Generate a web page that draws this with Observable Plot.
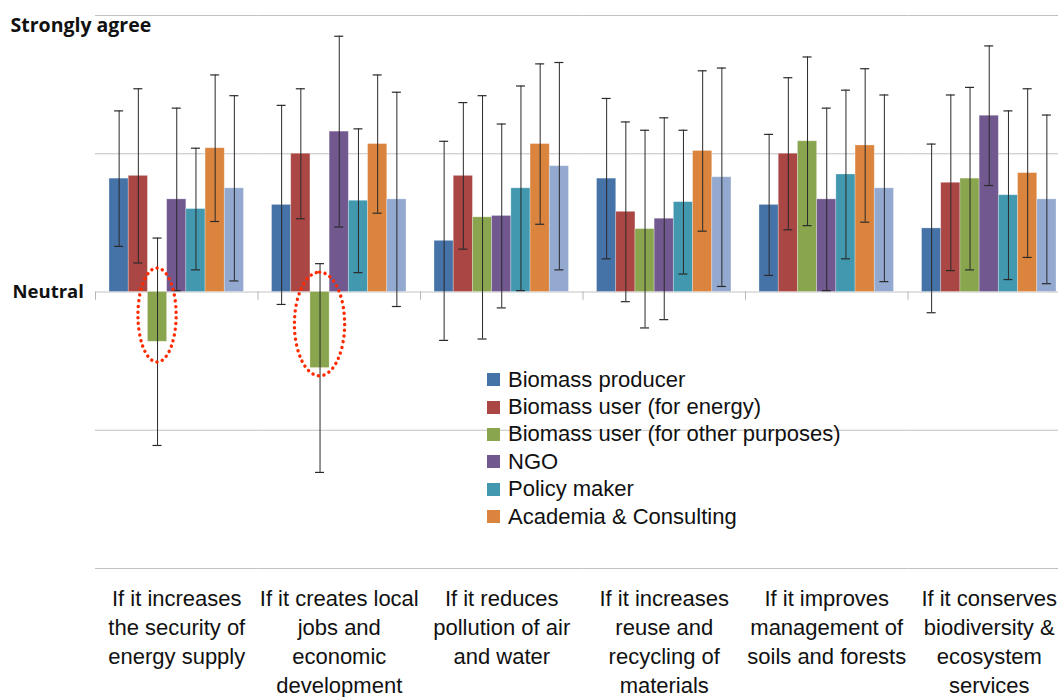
<!DOCTYPE html>
<html><head><meta charset="utf-8">
<script src="https://cdn.jsdelivr.net/npm/d3@7"></script>
<script src="https://cdn.jsdelivr.net/npm/@observablehq/plot@0.6"></script>
<style>
body{margin:0;overflow:hidden;background:#fff}
#wrap{position:relative;width:1070px;height:697px}
.legend{position:absolute;left:487px;top:366px;font:22px 'Liberation Sans',Arial,sans-serif;color:#111}
.row{height:27.4px;display:flex;align-items:center;white-space:nowrap}
.sw{width:13px;height:13px;margin-right:8px;flex:none}
</style></head><body>
<div id="wrap"><div id="chart"></div><div class="legend" id="legend"></div></div>
<script>
const categories = [
  "If it increases\nthe security of\nenergy supply",
  "If it creates local\njobs and\neconomic\ndevelopment",
  "If it reduces\npollution of air\nand water",
  "If it increases\nreuse and\nrecycling of\nmaterials",
  "If it improves\nmanagement of\nsoils and forests",
  "If it conserves\nbiodiversity &\necosystem\nservices"
];
const seriesNames = ["Biomass producer","Biomass user (for energy)","Biomass user (for other purposes)","NGO","Policy maker","Academia & Consulting","Other"];
const legendNames = seriesNames.slice(0, 6);
const colors = ["#4572a7","#aa4643","#89a54e","#71588f","#4198af","#db843d","#93a9cf"];

const meanProducer = [0.82, 0.63, 0.37, 0.82, 0.63, 0.46];
const errProducer  = [0.49, 0.72, 0.72, 0.58, 0.51, 0.61];
const meanEnergy   = [0.84, 1.00, 0.84, 0.58, 1.00, 0.79];
const errEnergy    = [0.63, 0.47, 0.53, 0.65, 0.55, 0.635];
const meanOtherUse = [-0.36, -0.55, 0.54, 0.455, 1.09, 0.82];
const errOtherUse  = [0.75, 0.755, 0.88, 0.715, 0.61, 0.66];
const meanNGO      = [0.67, 1.16, 0.55, 0.53, 0.67, 1.275];
const errNGO       = [0.66, 0.69, 0.665, 0.73, 0.66, 0.505];
const meanPolicy   = [0.60, 0.66, 0.75, 0.65, 0.85, 0.70];
const errPolicy    = [0.44, 0.52, 0.74, 0.52, 0.61, 0.61];
const meanAcademia = [1.04, 1.07, 1.07, 1.02, 1.06, 0.86];
const errAcademia  = [0.53, 0.50, 0.58, 0.58, 0.555, 0.61];
const meanOther    = [0.75, 0.67, 0.91, 0.83, 0.75, 0.67];
const errOther     = [0.67, 0.775, 0.75, 0.79, 0.675, 0.61];

const gridValues = [-2, -1, 0, 1, 2];
const yLabelTop = {value: 2, text: "Strongly agree"};
const yLabelMid = {value: 0, text: "Neutral"};

// highlighted (circled) bars: ellipse extent in data units
const highlight1 = [{cat: categories[0], series: seriesNames[2], top: 0.17, bottom: -0.51}];
const highlight2 = [{cat: categories[1], series: seriesNames[2], top: 0.14, bottom: -0.61}];

const means = [meanProducer, meanEnergy, meanOtherUse, meanNGO, meanPolicy, meanAcademia, meanOther];
const errs  = [errProducer, errEnergy, errOtherUse, errNGO, errPolicy, errAcademia, errOther];
const rows = [];
seriesNames.forEach((s, j) => categories.forEach((c, i) => rows.push({cat: c, series: s, mean: means[j][i], err: errs[j][i]})));

const errStroke = "#2a2a2a";
const ellipseStyle = {fx: "cat", x: "series", y1: "top", y2: "bottom", fill: "none", stroke: "#ff2a00",
  strokeWidth: 3.4, strokeDasharray: "0.1 5.6", strokeLinecap: "round", rx: 300, ry: 300};

const chart = Plot.plot({
  width: 1070, height: 697,
  marginLeft: 95, marginRight: 0, marginTop: 15, marginBottom: 129,
  fx: {domain: categories, padding: 0, round: false},
  x: {domain: seriesNames, paddingInner: 0, paddingOuter: 0.73, round: false, axis: null},
  y: {domain: [-2, 2], axis: null},
  color: {domain: seriesNames, range: colors},
  style: {fontFamily: "'Liberation Sans', Arial, sans-serif", background: "white", color: "#111"},
  marks: [
    Plot.ruleY(gridValues, {y: d => d, stroke: "#c2c2c2", strokeWidth: 1}),
    Plot.barY(rows, {fx: "cat", x: "series", y: "mean", fill: "series", stroke: "white", strokeOpacity: 0.35, strokeWidth: 0.8}),
    Plot.ruleX(rows, {fx: "cat", x: "series", y1: d => d.mean - d.err, y2: d => d.mean + d.err, stroke: errStroke, strokeWidth: 1}),
    Plot.tickY(rows, {fx: "cat", x: "series", y: d => d.mean - d.err, insetLeft: 5.1, insetRight: 5.1, stroke: errStroke, strokeWidth: 1.2}),
    Plot.tickY(rows, {fx: "cat", x: "series", y: d => d.mean + d.err, insetLeft: 5.1, insetRight: 5.1, stroke: errStroke, strokeWidth: 1.2}),
    Plot.ruleX(categories, {fx: d => d, x: () => seriesNames[0], y1: 0, y2: -0.06, dx: -23.6, stroke: "#b5b5b5"}),
    Plot.barY(highlight1, {...ellipseStyle, insetLeft: -9.5, insetRight: -9.5}),
    Plot.barY(highlight2, {...ellipseStyle, insetLeft: -15.5, insetRight: -15.5}),
    Plot.text([yLabelTop], {fx: () => categories[0], y: "value", text: "text", frameAnchor: "left", textAnchor: "start", dx: -85, dy: 10, fontSize: 19.5, fontWeight: "bold", fontFamily: "'Open Sans', sans-serif", fill: "#111"}),
    Plot.text([yLabelMid], {fx: () => categories[0], y: "value", text: "text", frameAnchor: "left", textAnchor: "start", dx: -83, dy: 0, fontSize: 18.5, fontWeight: "bold", fontFamily: "'Open Sans', sans-serif", fill: "#111"}),
    Plot.axisFx({anchor: "bottom", tickSize: 0, tickPadding: 17, fontSize: 22, lineHeight: 1.32, lineAnchor: "top", label: null, fill: "#111"})
  ]
});
document.getElementById("chart").appendChild(chart);

const legend = document.getElementById("legend");
legendNames.forEach((name, i) => {
  const row = document.createElement("div");
  row.className = "row";
  const sw = document.createElement("span");
  sw.className = "sw";
  sw.style.background = colors[i];
  const t = document.createElement("span");
  t.textContent = name;
  row.appendChild(sw); row.appendChild(t);
  legend.appendChild(row);
});
</script></body></html>
